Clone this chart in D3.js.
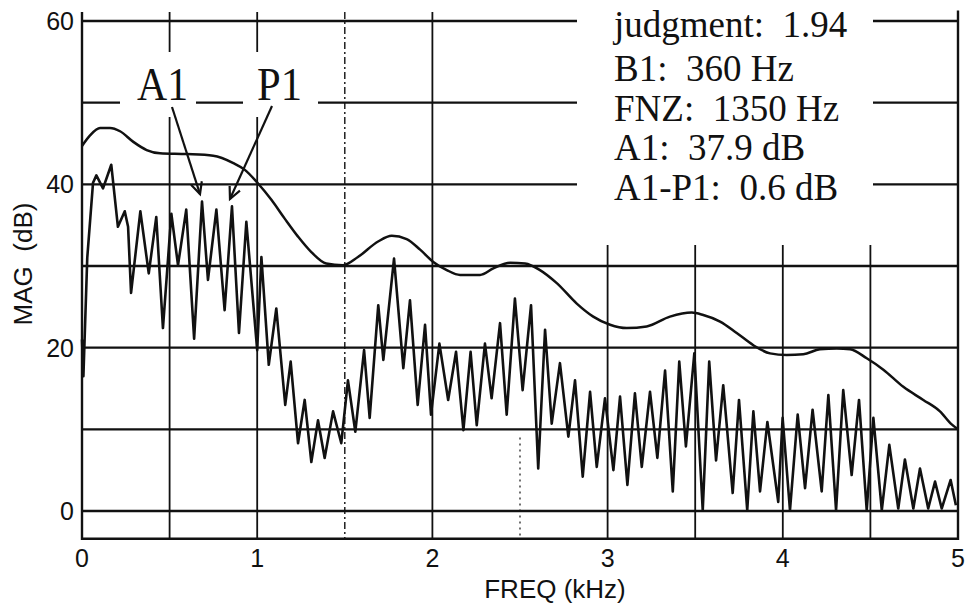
<!DOCTYPE html>
<html><head><meta charset="utf-8">
<script src="https://cdn.jsdelivr.net/npm/d3@7"></script>
<style>
html,body{margin:0;padding:0;background:#fff;}
svg{display:block;}
text{white-space:pre;}
</style></head><body>
<svg id="chart" width="967" height="605"></svg>
<script>
// ---------- data ----------
const xTicks = [0, 1, 2, 3, 4, 5];
const yTicks = [0, 20, 40, 60];
const hGrid = [0, 10, 20, 30, 40, 50, 60];
const vGridSolid = [0.5, 1, 2, 3, 3.5, 4, 4.5];
const vGridDashDot = [1.5];
const vGridDotted = [2.5];

const envFreq = [0.0,0.046,0.103,0.16,0.217,0.293,0.369,0.445,0.597,0.749,0.864,0.928,1.005,1.081,1.157,1.233,1.309,1.394,1.49,1.575,1.69,1.768,1.853,1.93,2.005,2.082,2.158,2.272,2.348,2.443,2.529,2.614,2.71,2.824,2.918,3.014,3.109,3.223,3.356,3.48,3.546,3.642,3.737,3.832,3.927,4.022,4.117,4.212,4.308,4.384,4.479,4.574,4.688,4.802,4.897,4.964,5.0];
const envMag  = [44.7,46.0,46.9,46.9,46.5,45.2,44.2,43.8,43.7,43.5,42.6,41.8,40.1,38.1,35.8,33.6,31.7,30.3,30.1,31.1,33.0,33.7,33.3,32.0,30.5,29.5,28.9,28.9,29.7,30.4,30.3,29.5,27.9,25.4,23.8,22.8,22.4,22.6,23.8,24.3,24.0,23.2,21.8,20.3,19.3,19.1,19.2,19.8,19.9,19.8,18.7,17.3,15.2,13.6,12.2,10.6,10.0];

const specFreq = [0.0,0.008,0.03,0.063,0.082,0.12,0.167,0.205,0.244,0.263,0.28,0.333,0.381,0.424,0.462,0.51,0.548,0.595,0.64,0.685,0.719,0.767,0.814,0.856,0.896,0.938,1.0,1.024,1.066,1.109,1.16,1.191,1.233,1.271,1.309,1.347,1.385,1.433,1.48,1.518,1.56,1.61,1.642,1.691,1.72,1.781,1.834,1.872,1.916,1.958,1.992,2.04,2.09,2.135,2.177,2.218,2.253,2.30,2.338,2.386,2.424,2.471,2.515,2.563,2.604,2.643,2.681,2.728,2.776,2.814,2.858,2.9,2.938,2.985,3.033,3.071,3.113,3.156,3.195,3.242,3.284,3.328,3.372,3.409,3.447,3.495,3.543,3.58,3.619,3.66,3.714,3.75,3.797,3.832,3.87,3.912,3.974,3.999,4.041,4.085,4.127,4.17,4.222,4.26,4.304,4.345,4.393,4.435,4.479,4.517,4.565,4.608,4.659,4.697,4.745,4.783,4.83,4.869,4.907,4.958,4.988];
const specMag  = [21,16.5,31,40.2,41.1,39.5,42.4,34.8,36.7,34.8,26.7,36.7,29.1,36.0,22.4,36.4,30.1,36.9,21.1,37.9,28.3,36.9,24.6,37.3,21.8,35.4,19.7,31.1,17.9,24.8,13.0,18.3,8.3,13.6,6.0,11.1,6.5,12.2,8.3,16.0,9.7,19.7,11.4,25.2,18.5,30.9,17.5,25.8,13.0,22.8,11.8,20.5,13.6,19.5,9.9,19.5,10.5,20.5,13.8,23.0,11.8,26.0,14.8,25.2,5.2,22.2,10.7,18.1,9.1,16.0,4.2,14.6,5.4,13.8,5.0,14.0,3.2,14.4,5.4,14.6,6.5,17.2,2.4,18.3,7.9,19.3,0.1,18.3,6.2,15.4,2.2,13.6,0.1,12.2,2.4,10.9,1.1,11.4,0.1,11.8,2.8,12.4,2.4,14.2,0.1,14.8,4.4,13.6,0.1,11.4,0.1,8.1,0.3,6.3,0.3,5.2,0.3,3.6,0.3,3.8,0.7];

const infoLines = ["judgment:  1.94", "B1:  360 Hz", "FNZ:  1350 Hz", "A1:  37.9 dB", "A1-P1:  0.6 dB"];
const markerLabels = ["A1", "P1"];
const markerFreq = [0.685, 0.856];
const markerMag = [37.9, 37.3];

// ---------- drawing ----------
const svg = d3.select("#chart");
const x = d3.scaleLinear().domain([0, 5]).range([82, 958]);
const y = d3.scaleLinear().domain([0, 60]).range([511, 21]);
const yBottom = y(-3.4), yTop = y(61.1);
const ink = "#111";

// horizontal grid
svg.append("g").selectAll("line").data(hGrid).join("line")
  .attr("x1", x(0)).attr("x2", x(5))
  .attr("y1", d => y(d)).attr("y2", d => y(d))
  .attr("stroke", ink).attr("stroke-width", 2.3);

// vertical grid
svg.append("g").selectAll("line").data(vGridSolid).join("line")
  .attr("x1", d => x(d)).attr("x2", d => x(d))
  .attr("y1", yTop).attr("y2", yBottom)
  .attr("stroke", ink).attr("stroke-width", 1.8);
svg.append("g").selectAll("line").data(vGridDashDot).join("line")
  .attr("x1", d => x(d)).attr("x2", d => x(d))
  .attr("y1", yTop).attr("y2", yBottom)
  .attr("stroke", ink).attr("stroke-width", 1.4)
  .attr("stroke-dasharray", "7,3,2,3");
svg.append("g").selectAll("line").data(vGridDotted).join("line")
  .attr("x1", d => x(d)).attr("x2", d => x(d))
  .attr("y1", y(9)).attr("y2", yBottom)
  .attr("stroke", ink).attr("stroke-width", 1.2)
  .attr("stroke-dasharray", "2,4");

// white blanking behind the info block and marker labels
svg.append("rect").attr("x", 577).attr("y", 0).attr("width", 296).attr("height", 245).attr("fill", "#fff");
svg.append("rect").attr("x", 120).attr("y", 52).attr("width", 76).attr("height", 65).attr("fill", "#fff");
svg.append("rect").attr("x", 243).attr("y", 52).attr("width", 75).attr("height", 65).attr("fill", "#fff");

// frame
svg.append("path")
  .attr("d", `M${x(0)},${yTop}V${yBottom}H${x(5)}V${y(61.3)}`)
  .attr("fill", "none").attr("stroke", ink).attr("stroke-width", 2.4);

// harmonic spectrum
const spec = specFreq.map((f, i) => [f, specMag[i]]);
svg.append("path").datum(spec)
  .attr("d", d3.line().x(d => x(d[0])).y(d => y(d[1])))
  .attr("fill", "none").attr("stroke", ink).attr("stroke-width", 2.6)
  .attr("stroke-linejoin", "round");

// envelope
const env = envFreq.map((f, i) => [f, envMag[i]]);
svg.append("path").datum(env)
  .attr("d", d3.line().curve(d3.curveMonotoneX).x(d => x(d[0])).y(d => y(d[1])))
  .attr("fill", "none").attr("stroke", ink).attr("stroke-width", 2.5);

// tick labels
svg.append("g").selectAll("text").data(yTicks).join("text")
  .attr("x", 74).attr("y", d => y(d) + 9)
  .attr("text-anchor", "end")
  .attr("font-family", "Liberation Sans, Arial, sans-serif").attr("font-size", 25)
  .attr("fill", ink).text(d => d);
svg.append("g").selectAll("text").data(xTicks).join("text")
  .attr("x", d => x(d)).attr("y", 567)
  .attr("text-anchor", "middle")
  .attr("font-family", "Liberation Sans, Arial, sans-serif").attr("font-size", 25)
  .attr("fill", ink).text(d => d);

// axis titles
svg.append("text").attr("x", 555).attr("y", 598).attr("text-anchor", "middle")
  .attr("font-family", "Liberation Sans, Arial, sans-serif").attr("font-size", 26)
  .attr("fill", ink).text("FREQ (kHz)");
svg.append("text").attr("transform", "translate(32,264) rotate(-90)").attr("text-anchor", "middle")
  .attr("font-family", "Liberation Sans, Arial, sans-serif").attr("font-size", 26)
  .attr("fill", ink).text("MAG  (dB)");

// info block
const baselines = [37, 81, 121, 160, 200];
svg.append("g").selectAll("text").data(infoLines).join("text")
  .attr("x", 614).attr("y", (d, i) => baselines[i])
  .attr("font-family", "Liberation Serif, Times New Roman, serif").attr("font-size", 37)
  .attr("fill", ink).text(d => d);

// marker labels + arrows
const labelX = [137, 257];
const labelW = [51, 45];
const arrowStart = [[172, 107], [272, 106]];
markerLabels.forEach((lab, i) => {
  svg.append("text").attr("x", labelX[i]).attr("y", 100)
    .attr("font-family", "Liberation Serif, Times New Roman, serif").attr("font-size", 46)
    .attr("textLength", labelW[i]).attr("lengthAdjust", "spacingAndGlyphs")
    .attr("fill", ink).text(lab);
  const tx = x(markerFreq[i]) - 2, ty = y(markerMag[i] + 0.9);
  const [sx, sy] = arrowStart[i];
  svg.append("line").attr("x1", sx).attr("y1", sy).attr("x2", tx).attr("y2", ty)
    .attr("stroke", ink).attr("stroke-width", 2.2);
  const ang = Math.atan2(ty - sy, tx - sx);
  const L = 13, spread = 0.45;
  const p1 = [tx - L * Math.cos(ang - spread), ty - L * Math.sin(ang - spread)];
  const p2 = [tx - L * Math.cos(ang + spread), ty - L * Math.sin(ang + spread)];
  svg.append("path").attr("d", `M${p1[0]},${p1[1]}L${tx},${ty}L${p2[0]},${p2[1]}`)
    .attr("fill", "none").attr("stroke", ink).attr("stroke-width", 2.2);
});
</script>
</body></html>
